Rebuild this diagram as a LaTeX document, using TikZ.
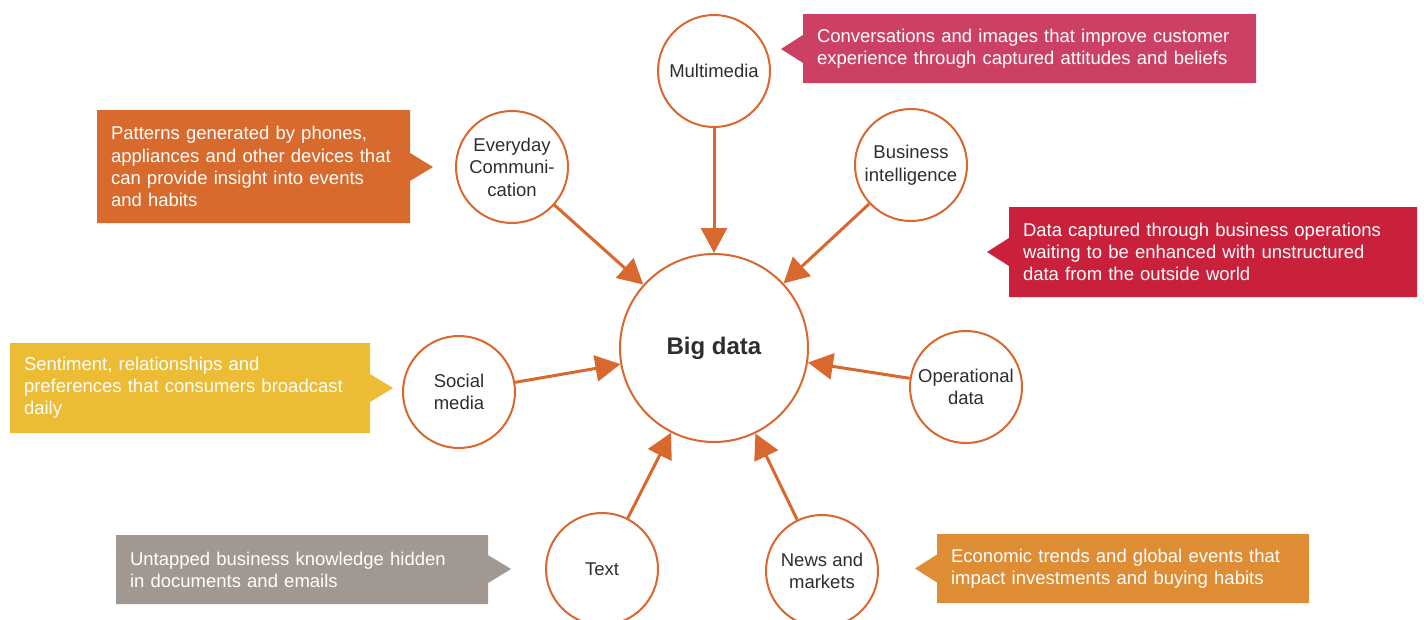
\documentclass[tikz,border=0pt]{standalone}
\usepackage{fontspec}
\setmainfont{Liberation Sans}
\usetikzlibrary{arrows.meta,shapes.callouts}
\definecolor{bdorange}{HTML}{D9682E}
\definecolor{bdtext}{HTML}{2E2E2E}
\definecolor{bdrose}{HTML}{CC4163}
\definecolor{bdrust}{HTML}{D86A2E}
\definecolor{bdred}{HTML}{C9213C}
\definecolor{bdyellow}{HTML}{EDBC35}
\definecolor{bdgrey}{HTML}{A19891}
\definecolor{bdamber}{HTML}{DF8D35}
\begin{document}
\begin{tikzpicture}[line join = round, >={Triangle[length=25pt,width=26pt]}, x = 1pt, y = -1pt,
	src/.style = {circle, draw = bdorange, line width = 2pt, fill = white, minimum size = 112pt, inner sep = 0pt, align = center, text = bdtext, font = \fontsize{18.5}{22.5}\selectfont},
	feed/.style = {->, draw = bdorange, line width = 3pt},
	note/.style = {rectangle callout, inner xsep = 14pt, inner ysep = 0pt, align = left, text = white, callout pointer width = 28pt, font = \fontsize{18.5}{22.2}\selectfont}]
	\useasboundingbox (0,0) rectangle (1424,619);
	%Vòng tròn trung tâm
	\node[src, minimum size = 188pt, font = \fontsize{24}{28}\selectfont\bfseries] (big) at (714,348) {Big data};
	%Các nguồn dữ liệu
	\node[src] (mm) at (714,71) {Multimedia};
	\node[src] (ev) at (512,167) {Everyday\\Communi-\\cation};
	\node[src] (bi) at (911,165) {Business\\intelligence};
	\node[src] (sm) at (459,392) {Social\\media};
	\node[src] (op) at (966,387) {Operational\\data};
	\node[src] (tx) at (602,569) {Text};
	\node[src] (nw) at (822,571) {News and\\markets};
	\foreach \s in {mm,ev,bi,sm,op,tx,nw} \draw[feed] (\s) -- (big);
	%Các chú thích
	\node[note, fill = bdrose, text width = 425pt, minimum height = 69pt, callout absolute pointer = {(781,49)}] (mmnote) at (1029.5,48.5) {Conversations and images that improve customer\\experience through captured attitudes and beliefs};
	\node[note, fill = bdrust, text width = 285pt, minimum height = 113pt, callout absolute pointer = {(433,167)}] (evnote) at (253.5,166.5) {Patterns generated by phones,\\appliances and other devices that\\can provide insight into events\\and habits};
	\node[note, fill = bdred, text width = 380pt, minimum height = 90pt, callout absolute pointer = {(987,252)}] (binote) at (1213,252) {Data captured through business operations\\waiting to be enhanced with unstructured\\data from the outside world};
	\node[note, fill = bdyellow, text width = 332pt, minimum height = 90pt, callout absolute pointer = {(393,388)}] (smnote) at (190,388) {Sentiment, relationships and\\preferences that consumers broadcast\\daily};
	\node[note, fill = bdgrey, text width = 344pt, minimum height = 69pt, callout absolute pointer = {(511,569)}] (txnote) at (302,569.5) {Untapped business knowledge hidden\\in documents and emails};
	\node[note, fill = bdamber, text width = 344pt, minimum height = 69pt, callout absolute pointer = {(915,568.5)}] (nwnote) at (1123,568.5) {Economic trends and global events that\\impact investments and buying habits};
\end{tikzpicture}
\end{document}
